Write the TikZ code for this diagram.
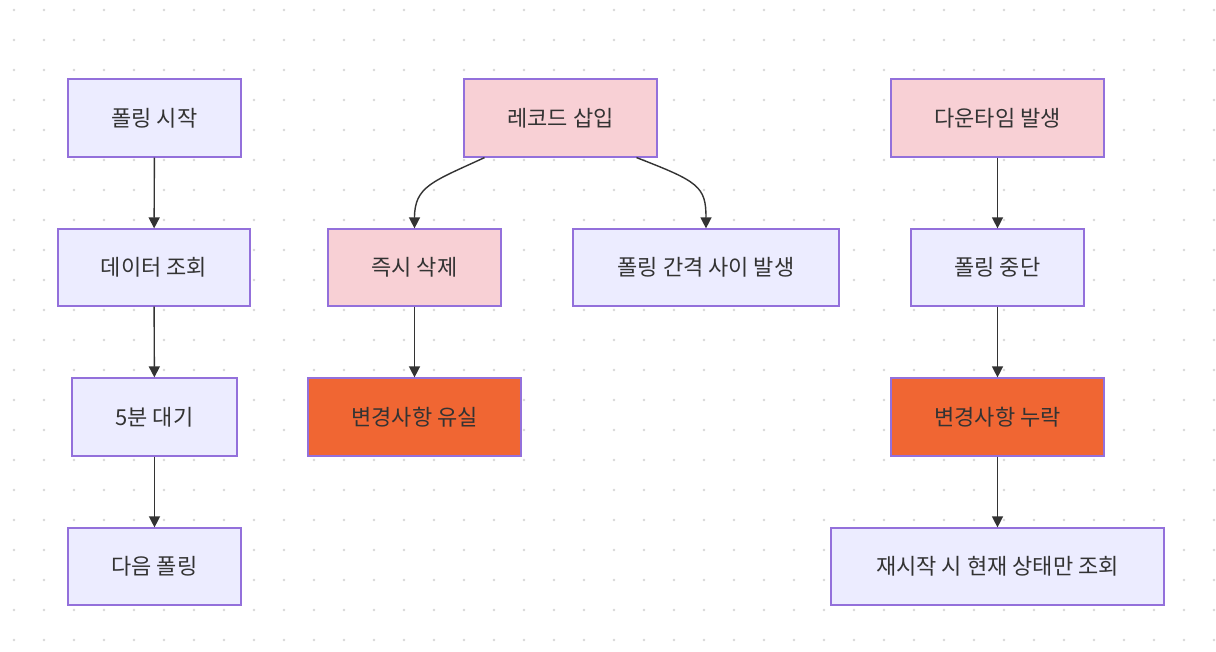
\documentclass[tikz,border=0pt]{standalone}
\usepackage{fontspec}
\setmainfont{Noto Sans CJK KR}
\usetikzlibrary{arrows.meta}
\definecolor{bluefill}{HTML}{ECECFF}
\definecolor{boxline}{HTML}{9370DB}
\definecolor{pinkfill}{HTML}{F8D0D5}
\definecolor{orangefill}{HTML}{F06633}
\definecolor{txt}{HTML}{333333}
\definecolor{dotc}{HTML}{D8D8D8}
\tikzset{
  x=1pt,y=-1pt,
  box/.style={draw=boxline,line width=1.2pt,text=txt,inner sep=0pt,
    font=\fontsize{22}{26}\selectfont,anchor=center},
  bluebox/.style={box,fill=bluefill},
  pinkbox/.style={box,fill=pinkfill},
  orangebox/.style={box,fill=orangefill},
  conn/.style={draw=txt,line width=1.4pt,-{Triangle[length=11pt,width=11pt]}},
}
\begin{document}
\begin{tikzpicture}
\useasboundingbox (0,0) rectangle (1216,652);
\fill[white] (0,0) rectangle (1216,652);
\foreach \i in {0,...,40} {
  \foreach \j in {0,...,21} {
    \fill[dotc] ({14+30*\i},{10+30*\j}) circle (1.3);
  }
}
% left column
\node[bluebox,minimum width=173pt,minimum height=78pt] (a1) at (154.5,118) {폴링 시작};
\node[bluebox,minimum width=192pt,minimum height=77pt] (a2) at (154,267.5) {데이터 조회};
\node[bluebox,minimum width=165pt,minimum height=78pt] (a3) at (154.5,417) {5분 대기};
\node[bluebox,minimum width=173pt,minimum height=77pt] (a4) at (154.5,566.5) {다음 폴링};
% middle
\node[pinkbox,minimum width=193pt,minimum height=78pt] (b1) at (560.5,118) {레코드 삽입};
\node[pinkbox,minimum width=173pt,minimum height=77pt] (b2) at (414.5,267.5) {즉시 삭제};
\node[bluebox,minimum width=266pt,minimum height=77pt] (b3) at (706,267.5) {폴링 간격 사이 발생};
\node[orangebox,minimum width=213pt,minimum height=78pt] (b4) at (414.5,417) {변경사항 유실};
% right
\node[pinkbox,minimum width=213pt,minimum height=78pt] (c1) at (997.5,118) {다운타임 발생};
\node[bluebox,minimum width=173pt,minimum height=77pt] (c2) at (997.5,267.5) {폴링 중단};
\node[orangebox,minimum width=213pt,minimum height=78pt] (c3) at (997.5,417) {변경사항 누락};
\node[bluebox,minimum width=333pt,minimum height=77pt] (c4) at (997.5,566.5) {재시작 시 현재 상태만 조회};
% connectors
\draw[conn] (a1) -- (a2);
\draw[conn] (a2) -- (a3);
\draw[conn] (a3) -- (a4);
\draw[conn] ([xshift=-76pt]b1.south) .. controls ([xshift=-128pt,yshift=-24pt]b1.south) and ([yshift=42pt]b2.north) .. (b2.north);
\draw[conn] ([xshift=76pt]b1.south) .. controls ([xshift=138pt,yshift=-24pt]b1.south) and ([yshift=42pt]b3.north) .. (b3.north);
\draw[conn] (b2) -- (b4);
\draw[conn] (c1) -- (c2);
\draw[conn] (c2) -- (c3);
\draw[conn] (c3) -- (c4);
\end{tikzpicture}
\end{document}
